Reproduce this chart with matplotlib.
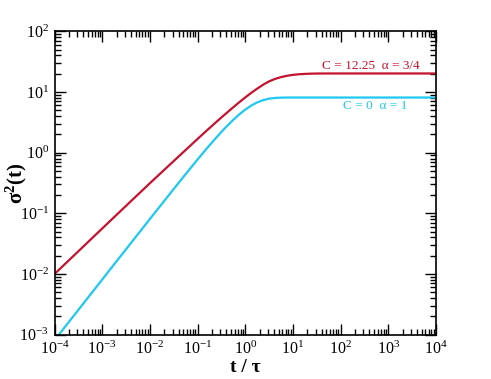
import numpy as np
import matplotlib
matplotlib.use('Agg')
import matplotlib.pyplot as plt

plt.rcParams['font.family'] = ['Liberation Serif', 'DejaVu Serif']
plt.rcParams['mathtext.fontset'] = 'custom'
plt.rcParams['mathtext.rm'] = 'Liberation Serif'
plt.rcParams['mathtext.it'] = 'Liberation Serif:italic'
plt.rcParams['mathtext.bf'] = 'Liberation Serif:bold'

# log10(t / tau) where the curves were read
log_t = [-4, -3.5, -3, -2.5, -2, -1.5, -1.25, -1,
         -0.875, -0.75, -0.625, -0.5, -0.375, -0.25, -0.125, 0,
         0.125, 0.25, 0.375, 0.5, 0.625, 0.75, 0.875, 1,
         1.125, 1.25, 1.375, 1.5, 1.75, 2, 3, 4]
t = 10.0 ** np.array(log_t)

# C = 12.25, alpha = 3/4
sig_red = [0.0100, 0.02371, 0.05623, 0.1330, 0.3133, 0.7278, 1.107, 1.683,
           2.070, 2.541, 3.112, 3.802, 4.624, 5.610, 6.776, 8.128,
           9.661, 11.35, 13.18, 14.96, 16.41, 17.58, 18.49, 19.14,
           19.59, 19.86, 20.04, 20.14, 20.18, 20.18, 20.18, 20.18]

# C = 0, alpha = 1
sig_cyan = [0.00081, 0.00256, 0.0081, 0.0256, 0.0806, 0.252, 0.443, 0.771,
            1.012, 1.32, 1.710, 2.196, 2.787, 3.484, 4.27, 5.12,
            5.97, 6.73, 7.34, 7.76, 7.98, 8.07, 8.096, 8.1,
            8.1, 8.1, 8.1, 8.1, 8.1, 8.1, 8.1, 8.1]

red = '#c4122f'
cyan = '#1ec8f0'

fig = plt.figure(figsize=(4.91, 3.79), dpi=100)
ax = fig.add_axes([54.5/491, 1-334.7/379, (436-54.5)/491, (334.7-31.3)/379])

ax.plot(t, sig_red, color=red, lw=1.6)
ax.plot(t, sig_cyan, color=cyan, lw=1.6)

ax.set_xscale('log')
ax.set_yscale('log')
ax.set_xlim(1e-4, 1e4)
ax.set_ylim(1e-3, 1e2)

loc = matplotlib.ticker
ax.xaxis.set_major_locator(loc.LogLocator(base=10, numticks=20))
ax.yaxis.set_major_locator(loc.LogLocator(base=10, numticks=20))
ax.xaxis.set_minor_locator(loc.LogLocator(base=10, subs=np.arange(2, 10), numticks=20))
ax.yaxis.set_minor_locator(loc.LogLocator(base=10, subs=np.arange(2, 10), numticks=20))
ax.xaxis.set_minor_formatter(loc.NullFormatter())
ax.yaxis.set_minor_formatter(loc.NullFormatter())

ax.tick_params(which='both', direction='in', top=True, right=True,
               labelsize=11.5, width=1.0, pad=4)
ax.tick_params(which='major', length=8)
ax.tick_params(which='minor', length=4.5)
for s in ax.spines.values():
    s.set_linewidth(1.2)

ax.set_xlabel('t / τ', fontsize=14, fontweight='bold', labelpad=1)
ax.set_ylabel('σ$^{\\mathbf{2}}$(t)', fontsize=15, fontweight='bold')
ax.yaxis.set_label_coords(-0.068, 0.5)

ax.text(0.958, 0.865, 'C = 12.25  α = 3/4', transform=ax.transAxes,
        color=red, fontsize=9.5, ha='right', va='bottom')
ax.text(0.924, 0.774, 'C = 0  α = 1', transform=ax.transAxes,
        color=cyan, fontsize=9.5, ha='right', va='top')

fig.savefig('out.png', dpi=100)
